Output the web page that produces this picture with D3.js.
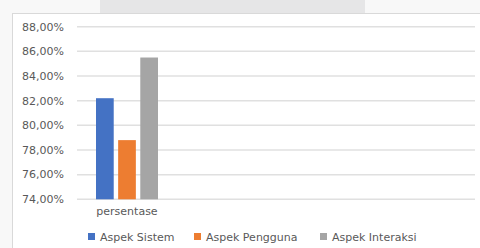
<!DOCTYPE html>
<html>
<head>
<meta charset="utf-8">
<script src="https://cdn.jsdelivr.net/npm/d3@7"></script>
<style>
  body { margin: 0; background: #f8f8f8; }
  svg { display: block; }
</style>
</head>
<body>
<script>
// data
const categories = ['persentase'];
const seriesNames = ['Aspek Sistem', 'Aspek Pengguna', 'Aspek Interaksi'];
const seriesValues = [0.822, 0.788, 0.855];
const yTicks = [0.74, 0.76, 0.78, 0.80, 0.82, 0.84, 0.86, 0.88];

const colors = ['#4472c4', '#ed7d31', '#a5a5a5'];
const W = 480, H = 248;
const font = 'DejaVu Sans, sans-serif';
const textCol = '#595959';

const svg = d3.select('body').append('svg')
    .attr('width', W)
    .attr('height', H);

// page backdrop + banner
svg.append('rect').attr('x', 0).attr('y', 0).attr('width', W).attr('height', H).attr('fill', '#f8f8f8');
svg.append('rect').attr('x', 100).attr('y', 0).attr('width', 265).attr('height', 13).attr('fill', '#e6e6e7');

// chart box
svg.append('rect')
    .attr('x', 12.5).attr('y', 13.5)
    .attr('width', W).attr('height', H)
    .attr('fill', '#fff')
    .attr('stroke', '#d9d9d9')
    .attr('stroke-width', 1);

// scales
const y = d3.scaleLinear()
    .domain([0.74, 0.88])
    .range([199.3, 26.7]);

const x = d3.scaleBand()
    .domain(categories)
    .range([77, 177]);

const xInner = d3.scaleBand()
    .domain(seriesNames)
    .range([96, 158])
    .paddingInner(0.2);

// gridlines
svg.append('g')
    .selectAll('line')
    .data(yTicks)
    .enter()
    .append('line')
    .attr('x1', 77)
    .attr('x2', 475)
    .attr('y1', d => y(d))
    .attr('y2', d => y(d))
    .attr('stroke', '#e0e0e0')
    .attr('stroke-width', 1.5);

// y tick labels
svg.append('g')
    .selectAll('text')
    .data(yTicks)
    .enter()
    .append('text')
    .text(d => (d * 100).toFixed(2).replace('.', ',') + '%')
    .attr('x', 64)
    .attr('y', d => y(d))
    .attr('dy', '0.35em')
    .attr('text-anchor', 'end')
    .attr('font-family', font)
    .attr('font-size', '11px')
    .attr('fill', textCol);

// bars
svg.append('g')
    .selectAll('rect')
    .data(seriesValues)
    .enter()
    .append('rect')
    .attr('x', (d, i) => xInner(seriesNames[i]))
    .attr('y', d => y(d))
    .attr('width', xInner.bandwidth())
    .attr('height', d => y(0.74) - y(d))
    .attr('fill', (d, i) => colors[i]);

// category label
svg.append('text')
    .text(categories[0])
    .attr('x', x(categories[0]) + x.bandwidth() / 2)
    .attr('y', 215)
    .attr('text-anchor', 'middle')
    .attr('font-family', font)
    .attr('font-size', '11px')
    .attr('fill', textCol);

// legend
const legendX = [88, 194, 320];
const lg = svg.append('g')
    .selectAll('g')
    .data(seriesNames)
    .enter()
    .append('g')
    .attr('transform', (d, i) => `translate(${legendX[i]},237)`);

lg.append('rect')
    .attr('x', 0)
    .attr('y', -4)
    .attr('width', 7)
    .attr('height', 7)
    .attr('fill', (d, i) => colors[i]);

lg.append('text')
    .text(d => d)
    .attr('x', 12)
    .attr('y', 0)
    .attr('dy', '0.35em')
    .attr('font-family', font)
    .attr('font-size', '11px')
    .attr('fill', textCol);
</script>
</body>
</html>
